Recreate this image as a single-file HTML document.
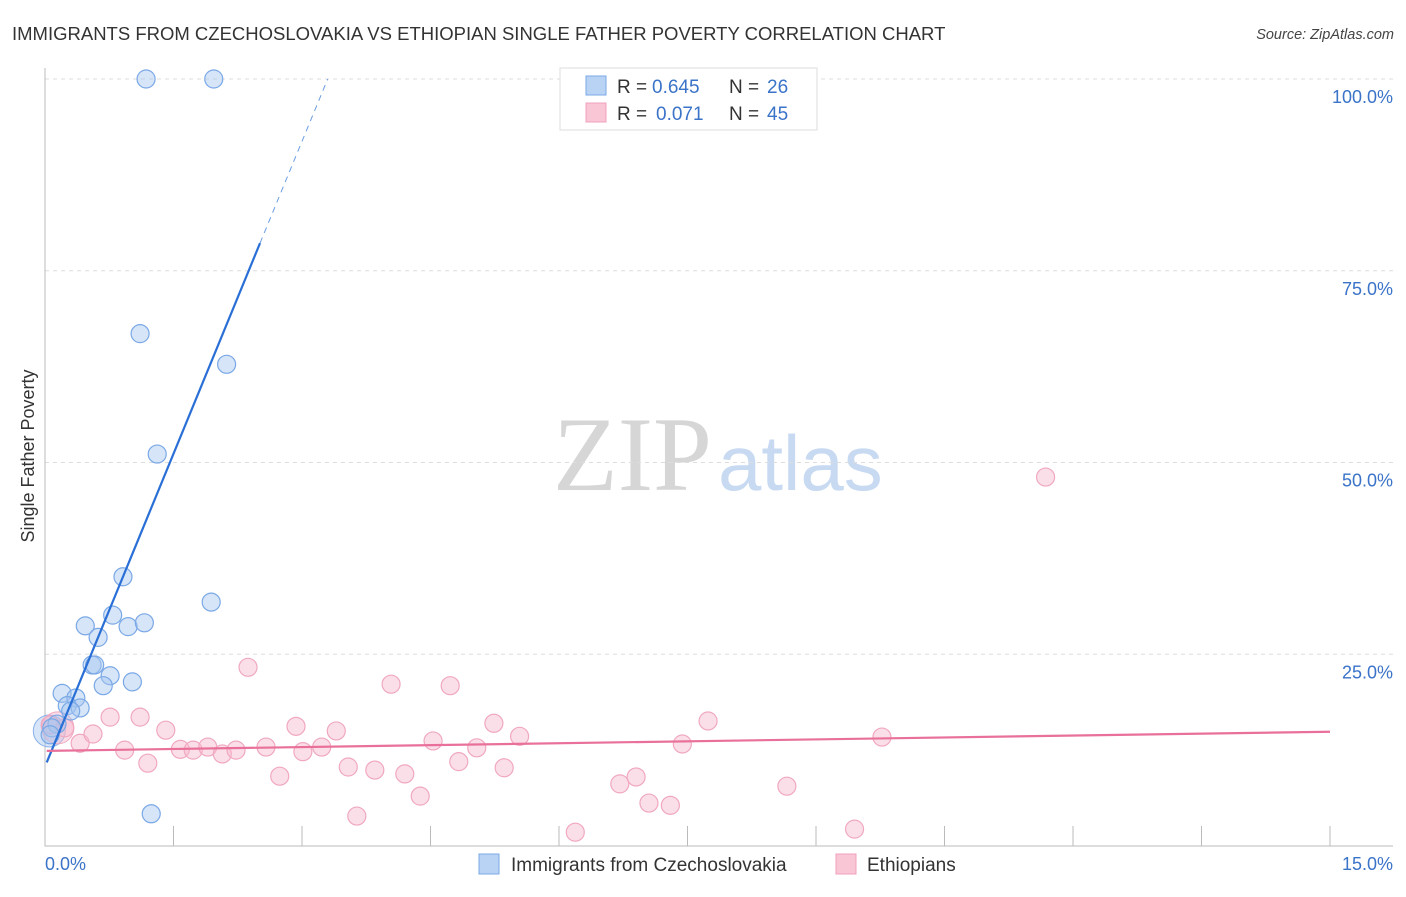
<!DOCTYPE html>
<html><head><meta charset="utf-8"><style>
body{margin:0;background:#fff;font-family:"Liberation Sans",sans-serif}
svg text{font-family:"Liberation Sans",sans-serif}
</style></head><body>
<svg id="c" width="1406" height="892" viewBox="0 0 1406 892">
<text x="12" y="40" font-size="18.5" fill="#333">IMMIGRANTS FROM CZECHOSLOVAKIA VS ETHIOPIAN SINGLE FATHER POVERTY CORRELATION CHART</text>
<text x="1394" y="39" font-size="14.5" fill="#444" font-style="italic" text-anchor="end">Source: ZipAtlas.com</text>
<text x="712" y="490" font-size="106" fill="#d6d6d6" text-anchor="end" style="font-family:'Liberation Serif',serif">ZIP</text>
<text x="718" y="490" font-size="78" fill="#c8daf2">atlas</text>
<text transform="translate(34,456) rotate(-90)" font-size="18" fill="#333" text-anchor="middle">Single Father Poverty</text>
<g id="grid"></g><g id="marks"></g>
<g>
<rect x="560" y="68" width="257" height="62" fill="#fff" stroke="#ddd"/>
<rect x="586" y="76" width="20" height="19" fill="#b9d3f5" stroke="#7aa8e6"/>
<rect x="586" y="103" width="20" height="19" fill="#f9c6d6" stroke="#f0a0bc"/>
<g font-size="19" fill="#333">
<text x="617" y="93">R =</text><text x="652" y="93" fill="#3a73c8">0.645</text><text x="729" y="93">N =</text><text x="767" y="93" fill="#3a73c8">26</text></g>
<g font-size="19" fill="#333">
<text x="617" y="120">R =</text><text x="656" y="120" fill="#3a73c8">0.071</text><text x="729" y="120">N =</text><text x="767" y="120" fill="#3a73c8">45</text></g>
</g>
<g>
<rect x="479" y="854" width="20" height="20" fill="#b9d3f5" stroke="#7aa8e6"/>
<text x="511" y="871" font-size="19" fill="#333">Immigrants from Czechoslovakia</text>
<rect x="836" y="854" width="20" height="20" fill="#f9c6d6" stroke="#f0a0bc"/>
<text x="867" y="871" font-size="19" fill="#333">Ethiopians</text>
</g>
</svg>
<script>
const yTicks=[25,50,75,100];
const yTickLabels=["25.0%","50.0%","75.0%","100.0%"];
const xTicks=[1.5,3,4.5,6,7.5,9,10.5,12,13.5,15];
const xAxisLabels=["0.0%","15.0%"];
const czechX=[1.18,1.97,1.11,2.12,1.31,0.91,1.94,0.79,0.47,0.97,1.16,0.62,0.55,0.58,0.76,0.68,1.02,0.20,0.36,0.26,0.41,0.30,0.14,0.08,0.06,1.24];
const czechY=[100,100,66.8,62.8,51.1,35.1,31.8,30.1,28.7,28.6,29.1,27.2,23.6,23.6,22.2,20.9,21.4,19.9,19.3,18.3,18.0,17.6,15.9,15.4,14.5,4.2];
const ethX=[0.06,0.23,0.41,0.56,0.76,0.93,1.11,1.20,1.41,1.58,1.73,1.90,2.07,2.23,2.37,2.58,2.74,2.93,3.01,3.23,3.40,3.54,3.64,3.85,4.04,4.20,4.38,4.53,4.73,4.83,5.04,5.24,5.36,5.54,6.19,6.71,6.90,7.05,7.30,7.44,7.74,8.66,9.45,9.77,11.68];
const ethY=[15.8,15.4,13.4,14.6,16.8,12.5,16.8,10.8,15.1,12.6,12.5,12.9,12.0,12.5,23.3,12.9,9.1,15.6,12.3,12.9,15.0,10.3,3.9,9.9,21.1,9.4,6.5,13.7,20.9,11.0,12.8,16.0,10.2,14.3,1.8,8.1,9.0,5.6,5.3,13.3,16.3,7.8,2.2,14.2,48.1];
const czechLine=[[0.02,10.9],[2.51,78.6],[3.3,100]];
const ethLine=[[0.02,12.4],[15,14.9]];
const NS="http://www.w3.org/2000/svg";
const X=v=>45+v/15*1285, Y=v=>846-v/100*767;
function mk(t,a,p){const e=document.createElementNS(NS,t);for(const k in a)e.setAttribute(k,a[k]);p.appendChild(e);return e;}
const g=document.getElementById('grid'),m=document.getElementById('marks');
yTicks.forEach((t,i)=>{
 const l=mk('line',{x1:45,x2:1393,y1:Y(t),y2:Y(t),stroke:'#ddd','stroke-dasharray':'4,4'},g);
 
 
 const tx=mk('text',{x:1393,y:Y(t)+24,'font-size':18,fill:'#3a73c8','text-anchor':'end'},g);
 tx.textContent=yTickLabels[i];
 
 
});
const ax=mk('path',{d:`M45 68V846H1393`,stroke:'#bbb',fill:'none'},g);


xTicks.forEach(t=>{
 const l=mk('line',{x1:X(t),x2:X(t),y1:826,y2:846,stroke:'#bbb'},g);
 
 
});
[[45,'start',0],[1393,'end',1]].forEach(([x,a,i])=>{
 const tx=mk('text',{x:x,y:870,'font-size':18,fill:'#3a73c8','text-anchor':a},g);
 tx.textContent=xAxisLabels[i];
 
 
});
const bo=mk('circle',{cx:X(0.05),cy:Y(15),r:16,fill:'rgba(165,198,240,0.45)',stroke:'#8ab2ea'},m);


const po=mk('circle',{cx:X(0.15),cy:Y(15.4),r:16,fill:'rgba(246,185,205,0.45)',stroke:'#f0a8c0'},m);


ethX.forEach((x,i)=>{
 const c=mk('circle',{cx:X(x),cy:Y(ethY[i]),r:9,fill:'rgba(246,185,205,0.45)',stroke:'#f0a8c0','stroke-width':1.2},m);
 
 
});
czechX.forEach((x,i)=>{
 const c=mk('circle',{cx:X(x),cy:Y(czechY[i]),r:9,fill:'rgba(165,198,240,0.45)',stroke:'#7aa8e6','stroke-width':1.2},m);
 
 
});
const bl=mk('line',{x1:X(czechLine[0][0]),y1:Y(czechLine[0][1]),x2:X(czechLine[1][0]),y2:Y(czechLine[1][1]),stroke:'#2a6fd6','stroke-width':2.2},m);


const bd=mk('line',{x1:X(czechLine[1][0]),y1:Y(czechLine[1][1]),x2:X(czechLine[2][0]),y2:Y(czechLine[2][1]),stroke:'#6a9de0','stroke-width':1,'stroke-dasharray':'6,5'},m);


const pl=mk('line',{x1:X(ethLine[0][0]),y1:Y(ethLine[0][1]),x2:X(ethLine[1][0]),y2:Y(ethLine[1][1]),stroke:'#e8709a','stroke-width':2.2},m);


</script>
</body></html>
